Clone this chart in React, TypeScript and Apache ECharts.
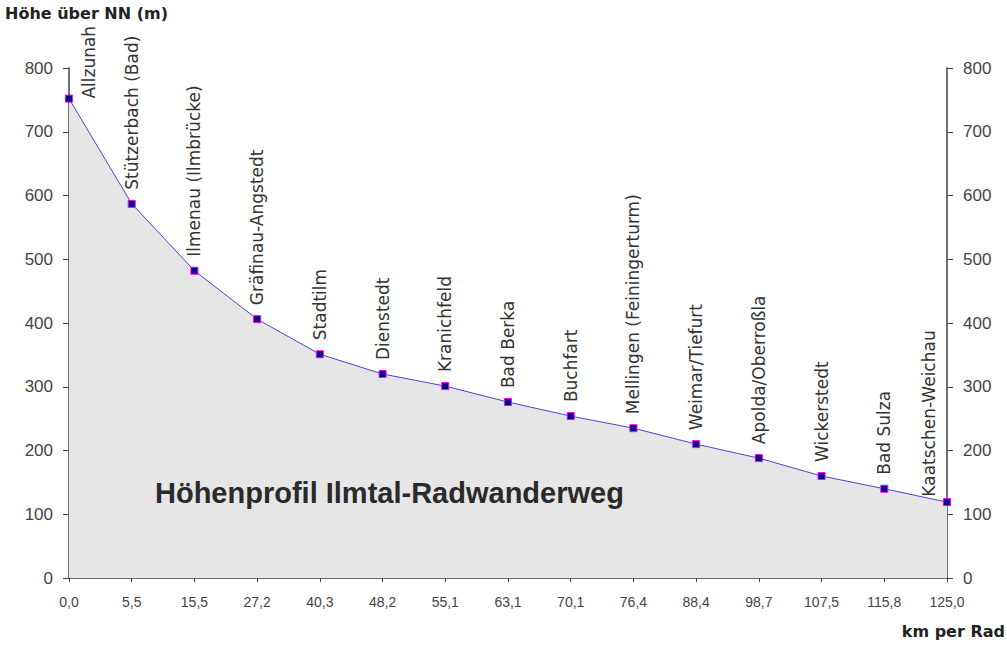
import React, { useEffect, useRef } from "react";
import * as echarts from "echarts";

const kmLabels = ["0,0", "5,5", "15,5", "27,2", "40,3", "48,2", "55,1", "63,1", "70,1", "76,4", "88,4", "98,7", "107,5", "115,8", "125,0"];
const places = ["Allzunah", "Stützerbach (Bad)", "Ilmenau (Ilmbrücke)", "Gräfinau-Angstedt", "Stadtilm", "Dienstedt", "Kranichfeld", "Bad Berka", "Buchfart", "Mellingen (Feiningerturm)", "Weimar/Tiefurt", "Apolda/Oberroßla", "Wickerstedt", "Bad Sulza", "Kaatschen-Weichau"];
const heights = [752, 587, 482, 406, 351, 320, 301, 276, 254, 235, 210, 188, 160, 140, 119];
const yTicks = { min: 0, max: 800, interval: 100 };

const FONT = "Arial, 'Liberation Sans', sans-serif";
const WIDE = "'DejaVu Sans', Verdana, sans-serif";

export default function App() {
  const ref = useRef<HTMLDivElement>(null);
  useEffect(() => {
    if (!ref.current) return;
    const chart = echarts.init(ref.current, undefined, { renderer: "svg" });
    const axisLine = { show: true, lineStyle: { color: "#404040", width: 1.5 } };
    const lastIdx = heights.length - 1;
    const data = heights.map((v, i) => {
      const item: any = { value: v, name: places[i] };
      if (i === 0) item.label = { position: [3.5 + 20, 4] };
      if (i === lastIdx) item.label = { position: [3.5 - 17.5, -1.5] };
      return item;
    });
    chart.setOption({
      animation: false,
      backgroundColor: "#fff",
      grid: { left: 69, right: 60, top: 68, bottom: 75, containLabel: false },
      xAxis: {
        type: "category",
        data: kmLabels,
        boundaryGap: false,
        axisLine,
        axisTick: { show: true, length: 4, lineStyle: { color: "#404040" }, alignWithLabel: true },
        axisLabel: { color: "#444", fontSize: 14, fontFamily: FONT, margin: 17, interval: 0 },
        splitLine: { show: false },
      },
      yAxis: [
        {
          type: "value",
          position: "left",
          ...yTicks,
          axisLine,
          axisTick: { show: true, length: 6, lineStyle: { color: "#404040" } },
          axisLabel: { color: "#444", fontSize: 17, fontFamily: FONT, margin: 16 },
          splitLine: { show: false },
        },
        {
          type: "value",
          position: "right",
          ...yTicks,
          axisLine,
          axisTick: { show: true, length: 6, lineStyle: { color: "#404040" } },
          axisLabel: { color: "#444", fontSize: 17, fontFamily: FONT, margin: 16 },
          splitLine: { show: false },
        },
      ],
      series: [
        {
          type: "line",
          data,
          yAxisIndex: 0,
          symbol: "rect",
          symbolSize: 7,
          itemStyle: { color: "#000080", borderColor: "#ff00ff", borderWidth: 1 },
          lineStyle: { color: "#4848c8", width: 1 },
          areaStyle: { color: "#e6e6e6", opacity: 1 },
          label: {
            show: true,
            formatter: "{b}",
            position: "top",
            distance: 10,
            rotate: 90,
            align: "left",
            verticalAlign: "middle",
            color: "#333",
            fontSize: 17,
            fontFamily: WIDE,
          },
        },
      ],
      graphic: [
        {
          type: "text",
          left: 5,
          top: 5,
          z: 100,
          style: { text: "Höhe über NN (m)", font: `bold 16px ${WIDE}`, fill: "#222" },
        },
        {
          type: "text",
          right: 2,
          top: 623,
          z: 100,
          style: { text: "km per Rad", font: `bold 16px ${WIDE}`, fill: "#222" },
        },
        {
          type: "text",
          left: 155,
          top: 478,
          z: 100,
          style: { text: "Höhenprofil Ilmtal-Radwanderweg", font: `bold 29px ${FONT}`, fill: "#2a2a2a" },
        },
      ],
    });
    return () => chart.dispose();
  }, []);
  return <div ref={ref} style={{ position: "fixed", left: 0, top: 0, width: 1007, height: 653 }} />;
}
